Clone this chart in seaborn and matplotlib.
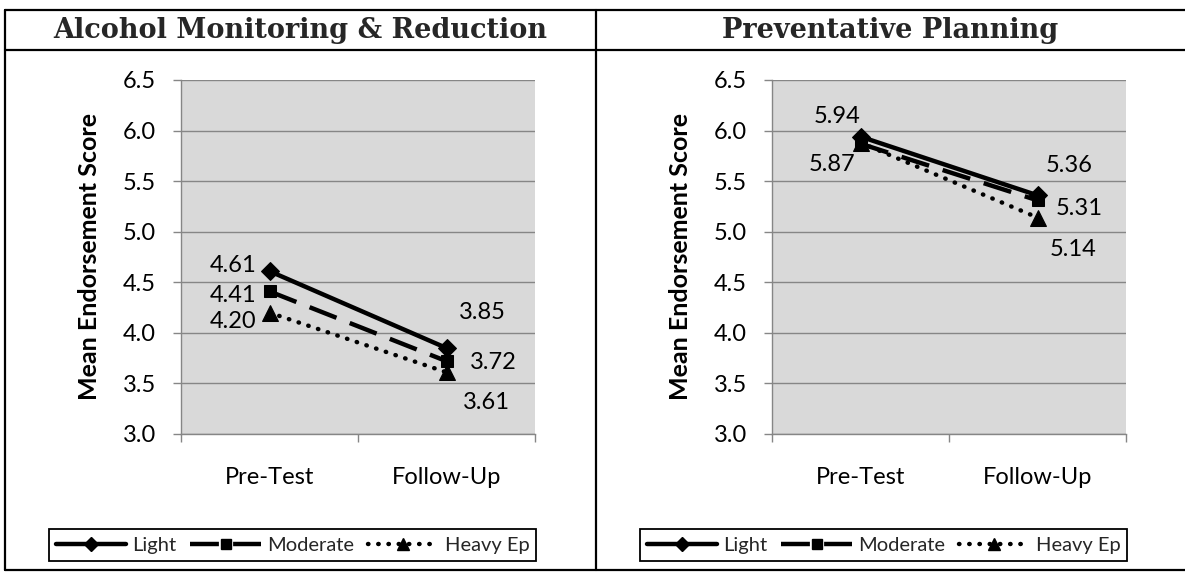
import matplotlib
matplotlib.use("Agg")
import matplotlib.pyplot as plt
from matplotlib.lines import Line2D
import seaborn as sns
import pandas as pd

# ---- data ----
phases = ["Pre-Test", "Follow-Up"]
groups = ["Light", "Moderate", "Heavy Ep"]

alcohol_light = [4.61, 3.85]
alcohol_moderate = [4.41, 3.72]
alcohol_heavy = [4.20, 3.61]

planning_light = [5.94, 5.36]
planning_moderate = [5.87, 5.31]
planning_heavy = [5.88, 5.14]

panel_titles = ["Alcohol Monitoring & Reduction", "Preventative Planning"]
y_ticks = [3.0, 3.5, 4.0, 4.5, 5.0, 5.5, 6.0, 6.5]

# ---- style ----
W, H = 1185, 576
sns.set_theme(style="whitegrid", rc={
    "axes.facecolor": "#d9d9d9",
    "grid.color": "#868686",
    "grid.linewidth": 1.0,
    "axes.edgecolor": "#868686",
    "axes.linewidth": 1.0,
})
plt.rcParams["font.family"] = ["Lato", "DejaVu Sans"]

fig = plt.figure(figsize=(W / 100, H / 100), dpi=100)
fig.patch.set_facecolor("white")


def fx(px):
    return px / W


def fy(py):
    return 1 - py / H


# table frame around the two panels
frame = [
    ((5, 1185), (10, 10)),
    ((5, 1185), (50, 50)),
    ((5, 1185), (570, 570)),
    ((5, 5), (10, 570)),
    ((596, 596), (10, 570)),
]
for xs, ys in frame:
    fig.add_artist(Line2D([fx(xs[0]), fx(xs[1])], [fy(ys[0]), fy(ys[1])],
                          transform=fig.transFigure, color="black", lw=1.6))

series_style = {
    "Light": dict(marker="D", markersize=9, legend_ms=7, linestyle="-", dash_capstyle="butt"),
    "Moderate": dict(marker="s", markersize=9, legend_ms=7, linestyle=(0, (6.5, 3.2)), dash_capstyle="butt"),
    "Heavy Ep": dict(marker="^", markersize=11, legend_ms=8.5, linestyle=(0, (0.1, 2.2)), dash_capstyle="round"),
}

panels = [
    dict(title=panel_titles[0], title_x=300.5, ax_left=181, legend_left=48,
         values=[alcohol_light, alcohol_moderate, alcohol_heavy],
         labels=[
             # (series index, phase index, dx px, dy px, ha)
             (0, 0, -13, -6, "right"),
             (1, 0, -13, 4, "right"),
             (2, 0, -13, 9, "right"),
             (0, 1, 12, -36, "left"),
             (1, 1, 23, 1, "left"),
             (2, 1, 16, 30, "left"),
         ]),
    dict(title=panel_titles[1], title_x=890.5, ax_left=772, legend_left=639,
         values=[planning_light, planning_moderate, planning_heavy],
         labels=[
             (0, 0, -23, -20, "center"),
             (1, 0, -28, 21, "center"),
             (0, 1, 32, -30, "center"),
             (1, 1, 42, 8, "center"),
             (2, 1, 36, 32, "center"),
         ]),
]

ax_w, ax_top, ax_bottom = 354, 80, 434

for p in panels:
    fig.text(fx(p["title_x"]), fy(31), p["title"], ha="center", va="center",
             fontsize=19.5, fontweight="bold", family=["DejaVu Serif"])

    ax = fig.add_axes([fx(p["ax_left"]), fy(ax_bottom), ax_w / W, (ax_bottom - ax_top) / H])

    for name, vals in zip(groups, p["values"]):
        df = pd.DataFrame({"phase": phases, "score": vals})
        st = series_style[name]
        sns.lineplot(data=df, x="phase", y="score", ax=ax, sort=False,
                     color="black", linewidth=3.2,
                     marker=st["marker"], markersize=st["markersize"],
                     markeredgecolor="black", markerfacecolor="black",
                     linestyle=st["linestyle"], dash_capstyle=st["dash_capstyle"])

    ax.set_xlim(-0.5, 1.5)
    ax.set_ylim(3.0, 6.5)
    ax.set_yticks(y_ticks)
    ax.set_yticklabels([f"{t:.1f}" for t in y_ticks])
    ax.set_xticks([0, 1])
    ax.set_xticklabels(phases)
    ax.set_xticks([-0.5, 0.5, 1.5], minor=True)
    ax.grid(axis="x", visible=False)
    ax.grid(axis="y", visible=True, which="major")
    ax.tick_params(axis="y", which="major", length=6, width=1.0, color="#868686",
                   labelsize=17, pad=12, left=True, labelcolor="black")
    ax.tick_params(axis="x", which="major", length=0, labelsize=17, pad=24, labelcolor="black")
    ax.tick_params(axis="x", which="minor", length=6, width=1.0, color="#868686", bottom=True)
    for s in ["top", "right"]:
        ax.spines[s].set_visible(False)
    ax.set_xlabel("")
    ax.set_ylabel("Mean Endorsement Score", fontsize=18, fontweight="bold", color="black")
    ax.yaxis.label.set_va("center")
    ax.yaxis.set_label_coords(-91 / ax_w, 0.5)

    for si, pi, dx, dy, ha in p["labels"]:
        v = p["values"][si][pi]
        ax.annotate(f"{v:.2f}", xy=(pi, v), xytext=(dx * 0.72, -dy * 0.72),
                    textcoords="offset points", ha=ha, va="center",
                    fontsize=17, color="black")

    # legend keys with smaller markers than the plotted points
    handles = [Line2D([], [], color="black", linewidth=3.2,
                      marker=series_style[g]["marker"],
                      markersize=series_style[g]["legend_ms"],
                      linestyle=series_style[g]["linestyle"],
                      dash_capstyle=series_style[g]["dash_capstyle"])
               for g in groups]
    leg = ax.legend(handles, groups, ncol=3, loc="center",
                    bbox_to_anchor=(fx(p["legend_left"] + 489 / 2), fy(545)),
                    bbox_transform=fig.transFigure,
                    fontsize=14.5, handlelength=3.5, handletextpad=0.3,
                    columnspacing=0.7, borderpad=0.35, frameon=True,
                    fancybox=False, framealpha=1, edgecolor="black",
                    facecolor="white")
    leg.get_frame().set_linewidth(1.3)

fig.savefig("out.png", dpi=100, facecolor="white")
